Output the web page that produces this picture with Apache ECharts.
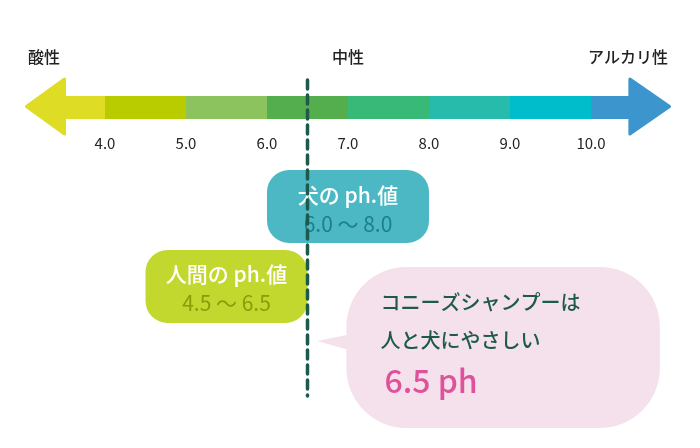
<!DOCTYPE html>
<html><head><meta charset="utf-8">
<script src="https://cdn.jsdelivr.net/npm/echarts@6/dist/echarts.min.js"></script>
<style>html,body{margin:0;background:#fff}#c{width:700px;height:448px}</style>
</head><body><div id="c"></div>
<script>
// pH bands, one per unit (ends trimmed where the arrow heads begin)
const bandStart = [3.48, 4, 5, 6, 7, 8, 9, 10];
const bandEnd = [4, 5, 6, 7, 8, 9, 10, 10.5];
const bandColors = ['#dfdc26', '#b8cc00', '#8dc35e', '#55ae4e', '#38b977', '#27bbac', '#00bdcc', '#3c96cd'];
const tickValues = [4, 5, 6, 7, 8, 9, 10];
const sideLabels = [['酸性', 3.05, 'left'], ['中性', 7.0, 'center'], ['アルカリ性', 10.95, 'right']];
const shampooPh = 6.5;

const FONT = '"Noto Sans CJK JP", "Noto Sans", sans-serif';
const chart = echarts.init(document.getElementById('c'));

function bands(params, api) {
  const p0 = api.coord([api.value(0), 96]), p1 = api.coord([api.value(1), 119]);
  return {type: 'rect', shape: {x: p0[0], y: p0[1], width: p1[0] - p0[0] + 0.5, height: p1[1] - p0[1]},
    style: {fill: bandColors[params.dataIndex]}};
}

function txt(p, t, fill, font, align) {
  return {type: 'text', x: p[0], y: p[1], style: {text: t, fill, font: font + ' ' + FONT, align: align || 'center', verticalAlign: 'middle'}};
}

function extras(params, api) {
  const c = (x, y) => api.coord([x, y]);
  const kids = [];
  // arrow heads
  const L = [c(3.03, 106.5), c(3.5, 79), c(3.5, 134)];
  const R = [c(10.97, 106.5), c(10.48, 79), c(10.48, 134)];
  kids.push({type: 'polygon', shape: {points: L}, style: {fill: bandColors[0], lineJoin: 'round', stroke: bandColors[0], lineWidth: 3}});
  kids.push({type: 'polygon', shape: {points: R}, style: {fill: bandColors[7], lineJoin: 'round', stroke: bandColors[7], lineWidth: 3}});
  sideLabels.forEach(([t, x, a]) => kids.push(txt(c(x, 57), t, '#222', '500 16px', a)));
  tickValues.forEach(v => kids.push(txt(c(v, 143), v.toFixed(1), '#222', '15px')));
  // dog bubble
  let a = c(6.0, 170), b = c(8.0, 243);
  kids.push({type: 'rect', shape: {x: a[0], y: a[1], width: b[0] - a[0], height: b[1] - a[1], r: 22}, style: {fill: '#4bb8c4'}});
  kids.push(txt(c(7.0, 195), '犬の ph.値', '#fff', '500 21px'));
  kids.push(txt(c(7.0, 224), '6.0 ～ 8.0', '#1f7f89', '21px'));
  // human bubble
  a = c(4.5, 250); b = c(6.5, 323);
  kids.push({type: 'rect', shape: {x: a[0], y: a[1], width: b[0] - a[0], height: b[1] - a[1], r: 22}, style: {fill: '#c3d82f'}});
  kids.push(txt(c(5.5, 274), '人間の ph.値', '#fff', '500 21px'));
  kids.push(txt(c(5.5, 303), '4.5 ～ 6.5', '#8a9c08', '21px'));
  // pink speech bubble
  kids.push({type: 'polygon', shape: {points: [c(6.62, 341), c(7.1, 333), c(7.1, 352)]}, style: {fill: '#f4e1eb'}});
  a = c(6.98, 267); b = c(10.85, 428);
  kids.push({type: 'rect', shape: {x: a[0], y: a[1], width: b[0] - a[0], height: b[1] - a[1], r: 60}, style: {fill: '#f4e1eb'}});
  kids.push(txt(c(7.4, 302), 'コニーズシャンプーは', '#1e5a4c', '500 20px', 'left'));
  kids.push(txt(c(7.4, 340), '人と犬にやさしい', '#1e5a4c', '500 20px', 'left'));
  kids.push(txt(c(7.45, 381), shampooPh.toFixed(1) + ' ph', '#e0519c', '500 32px', 'left'));
  // dashed line
  a = c(shampooPh, 80); b = c(shampooPh, 396);
  kids.push({type: 'line', shape: {x1: a[0], y1: a[1], x2: b[0], y2: b[1]}, z2: 10,
    style: {stroke: '#1d5a4b', lineWidth: 3.5, lineDash: [9, 6], lineCap: 'round'}});
  return {type: 'group', children: kids};
}

chart.setOption({
  animation: false,
  grid: {left: 24, right: 28, top: 0, bottom: 0},
  xAxis: {type: 'value', min: 3, max: 11, show: false},
  yAxis: {type: 'value', min: 0, max: 448, inverse: true, show: false},
  series: [
    {type: 'custom', renderItem: bands, data: bandStart.map((s, i) => [s, bandEnd[i]]), clip: false, z: 1},
    {type: 'custom', renderItem: extras, data: [[0]], clip: false, z: 2}
  ]
});
</script></body></html>
